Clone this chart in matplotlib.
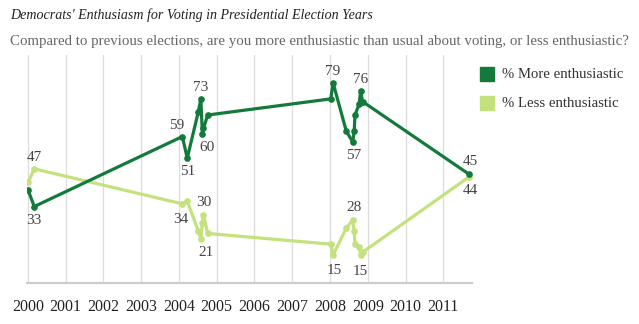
import matplotlib
matplotlib.use("Agg")
import matplotlib.pyplot as plt
from matplotlib.patches import Rectangle

# ---- data ----
dates = [2000.01, 2000.17,
         2004.09, 2004.22, 2004.51, 2004.58, 2004.62, 2004.65, 2004.76,
         2008.02, 2008.08, 2008.43, 2008.60, 2008.64, 2008.66, 2008.77, 2008.81, 2008.86,
         2011.68]
more_enth = [39, 33, 59, 51, 68, 73, 60, 62, 67, 73, 79, 61, 57, 61, 67, 71, 76, 72, 45]
less_enth = [42, 47, 34, 35, 24, 21, 27, 30, 23, 19, 15, 25, 28, 24, 19, 18, 15, 16, 44]
years = list(range(2000, 2012))
series_names = ["% More enthusiastic", "% Less enthusiastic"]

# labelled points: (index, dx, dy) offsets in points
more_labels = [(1, 0, -10), (2, -4, 8), (3, 0, -10), (5, 0, 8), (6, 3, -10),
               (10, 0, 8), (12, 1, -10), (16, 0, 8), (18, 1, 9)]
less_labels = [(1, 0, 8), (2, -1, -11), (5, 4, -10), (7, 0, 9), (10, 1, -11),
               (12, 1, 9), (16, 0, -12), (18, 1, -10)]

DARK = "#127a3a"
LIGHT = "#c3e27e"
GRID = "#dcdcdc"
TXT = "#444444"

W, H = 639, 324
fig = plt.figure(figsize=(W / 100, H / 100), dpi=100)
serif = ["Liberation Serif", "DejaVu Serif"]

x0, x1 = 26.7, 471.7
y_top, y_bot = 55, 282.7
ax = fig.add_axes([x0 / W, 1 - y_bot / H, (x1 - x0) / W, (y_bot - y_top) / H])
ax.set_xlim(1999.97, 2011.75)
ax.set_ylim(4.7, 89.3)

for s in ["top", "right", "left"]:
    ax.spines[s].set_visible(False)
ax.spines["bottom"].set_color("#cccccc")
ax.spines["bottom"].set_linewidth(1.5)
ax.set_yticks([])
ax.set_xticks(years)
ax.set_xticklabels([str(y) for y in years], family=serif, fontsize=11.5, color="#222222")
ax.tick_params(axis="x", length=0, pad=12)
ax.grid(axis="x", color=GRID, linewidth=0.9)
ax.set_axisbelow(True)

ax.plot(dates, less_enth, color=LIGHT, lw=2.3, marker="o", ms=3.8, zorder=3)
ax.plot(dates, more_enth, color=DARK, lw=2.3, marker="o", ms=3.8, zorder=4)

for idx, dx, dy in more_labels:
    ax.annotate(str(more_enth[idx]), (dates[idx], more_enth[idx]), xytext=(dx, dy),
                textcoords="offset points", ha="center", va="center",
                family=serif, fontsize=11, color=TXT, zorder=5)
for idx, dx, dy in less_labels:
    ax.annotate(str(less_enth[idx]), (dates[idx], less_enth[idx]), xytext=(dx, dy),
                textcoords="offset points", ha="center", va="center",
                family=serif, fontsize=11, color=TXT, zorder=5)

# title and subtitle
fig.text(10 / W, 1 - 15 / H, "Democrats' Enthusiasm for Voting in Presidential Election Years",
         family=serif, style="italic", fontsize=10.1, color="#222222", va="center", ha="left")
fig.text(10 / W, 1 - 41 / H,
         "Compared to previous elections, are you more enthusiastic than usual about voting, or less enthusiastic?",
         family=serif, fontsize=10.7, color="#666666", va="center", ha="left")

# legend
for i, (name, col) in enumerate(zip(series_names, [DARK, LIGHT])):
    yc = 74 + i * 29
    fig.patches.append(Rectangle((480 / W, 1 - (yc + 7) / H), 14 / W, 14 / H,
                                 transform=fig.transFigure, color=col, figure=fig))
    fig.text(502 / W, 1 - yc / H, name, family=serif, fontsize=10.6, color="#333333",
             va="center", ha="left")

fig.savefig("out.png", dpi=100)
